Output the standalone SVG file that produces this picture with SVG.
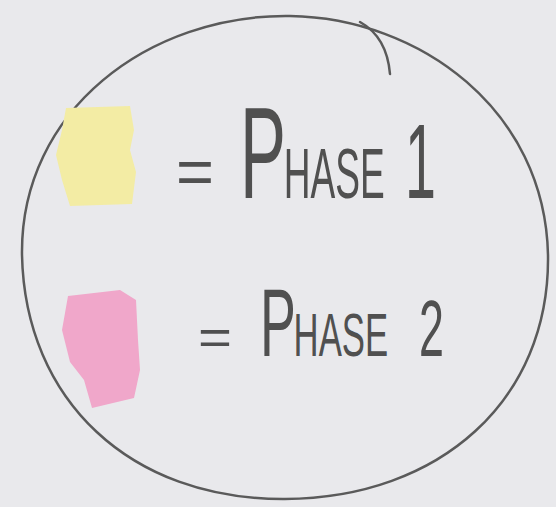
<svg xmlns="http://www.w3.org/2000/svg" width="556" height="507" viewBox="0 0 556 507">
<style>
.ink{fill:none;stroke:#5a5a5a;stroke-width:2.5;stroke-linecap:round}
.t{font-family:"Liberation Sans",Arial,sans-serif;fill:#505050}
</style>
<rect width="556" height="507" fill="#e9e9ec"/>
<g id="border">
<path class="ink" d="M290,16 C420,18 545,110 548,255 C550,400 440,498 285,499 C130,500 25,400 22,255 C20,110 150,14 290,16 Z"/>
<path class="ink" d="M360,22 C378,32 388,50 390,74"/>
</g>
<g id="legend-phase1">
<path d="M66,108 L130,106 L134,130 L130,150 L136,172 L132,204 L70,206 L62,180 L56,155 L62,130 Z" fill="#f3eca4"/>
<text class="t" x="176" y="194" font-size="64" textLength="38" lengthAdjust="spacingAndGlyphs">=</text>
<text class="t" transform="translate(240,198) scale(0.53,1)" x="0" y="0"><tspan font-size="130">P</tspan><tspan font-size="70" dx="-4">HASE</tspan><tspan font-size="105" dx="38">1</tspan></text>
</g>
<g id="legend-phase2">
<path d="M68,296 L120,290 L136,300 L138,340 L140,370 L134,398 L92,408 L84,380 L70,362 L62,330 Z" fill="#f0a7ca"/>
<text class="t" x="198" y="354" font-size="50" textLength="34" lengthAdjust="spacingAndGlyphs">=</text>
<text class="t" transform="translate(260,356) scale(0.56,1)" x="0" y="0"><tspan font-size="96">P</tspan><tspan font-size="62" dx="-4">HASE</tspan><tspan font-size="80" dx="55">2</tspan></text>
</g>
</svg>
